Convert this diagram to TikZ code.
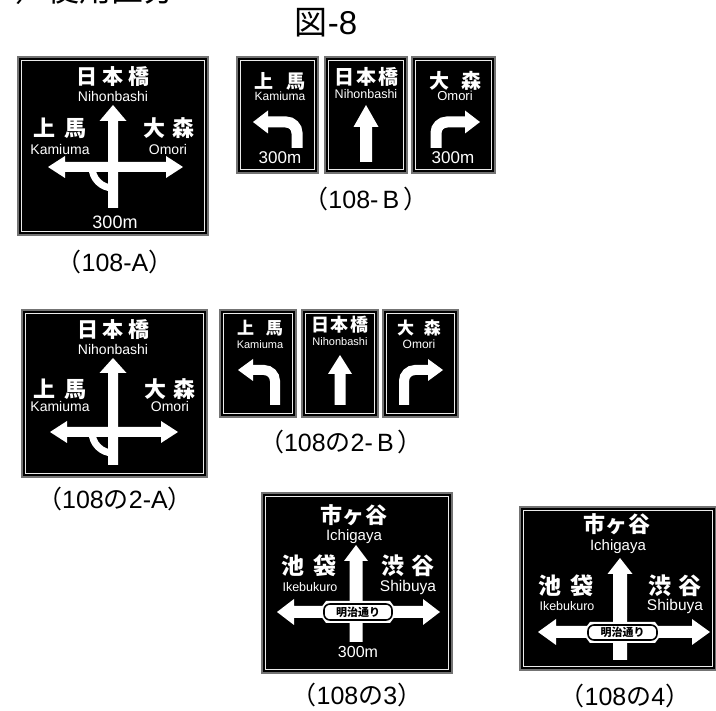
\documentclass[tikz,border=0pt]{standalone}
\usepackage{fontspec}
\setmainfont{Liberation Sans}
\newfontfamily\cjk{Noto Sans CJK JP}
\newfontfamily\latf{Liberation Sans}
\tikzset{
  signbg/.style={fill=black, draw=black!55, line width=1.5pt},
  signline/.style={draw=white!92!black, line width=1.1pt},
  jp/.style={text=white, inner sep=0pt, font=\cjk\bfseries\fontsize{#1}{#1}\selectfont},
  la/.style={text=white, inner sep=0pt, anchor=base, font=\latf\fontsize{#1}{#1}\selectfont},
  caption/.style={inner sep=0pt, anchor=base, font=\fontsize{25}{25}\selectfont},
}
% sign frame: x1 y1 x2 y2
\newcommand\signframe[4]{%
  \draw[signbg] (#1,#2) rectangle (#3,#4);
  \draw[signline] ([shift={(3.5,3.5)}]#1,#2) rectangle ([shift={(-3.5,-3.5)}]#3,#4);}
% up arrow: cx tip base bottom headhalf shafthalf
\newcommand\uparrowshape[6]{%
  \fill[white] ({#1-#6},#4) -- ({#1-#6},#3) -- ({#1-#5},#3) -- (#1,#2) -- ({#1+#5},#3) -- ({#1+#6},#3) -- ({#1+#6},#4) -- cycle;}
% double arrow: lx rx cy headlen headhalf shafthalf
\newcommand\dblarrow[6]{%
  \fill[white] (#1,#3) -- ({#1+#4},{#3-#5}) -- ({#1+#4},{#3-#6}) -- ({#2-#4},{#3-#6}) -- ({#2-#4},{#3-#5}) -- (#2,#3) -- ({#2-#4},{#3+#5}) -- ({#2-#4},{#3+#6}) -- ({#1+#4},{#3+#6}) -- ({#1+#4},{#3+#5}) -- cycle;}
% turn arrow: sx bottom hy tip base headhalf shafthalf
\newcommand\turnarrow[7]{%
  \draw[white, line width={2*#7}, rounded corners=11] (#1,#2) -- (#1,#3) -- ({#5+0.1*(#4-#5)},#3);
  \fill[white] (#4,#3) -- (#5,{#3-#6}) -- (#5,{#3+#6}) -- cycle;}
% road name plate: x1 x2 ytop ybot nodename
\newcommand\roadplate[5]{%
  \fill[white] (#1,{(#3+#4)/2}) -- ({#1+8},#3) -- ({#2-8},#3) -- (#2,{(#3+#4)/2}) -- ({#2-8},#4) -- ({#1+8},#4) -- cycle;
  \draw[black, line width=1.6, rounded corners=6] ({#1+6},{#3+3}) rectangle ({#2-6},{#4-3});
  \node[text=black, inner sep=0pt, font=\cjk\bfseries\fontsize{11}{11}\selectfont] (#5) at ({(#1+#2)/2},{(#3+#4)/2}) {明治通り};}
\begin{document}
\begin{tikzpicture}[x=1pt,y=-1pt]
\useasboundingbox (0,0) rectangle (716,711);
\clip (0,0) rectangle (716,711);
\fill[white] (0,0) rectangle (716,711);
% clipped heading at the top edge
\node[anchor=base west, inner sep=0pt, font=\cjk\fontsize{32}{32}\selectfont] (head) at (-49,2) {（ア）使用区分};
\node[anchor=base, inner sep=0pt, font=\fontsize{33}{33}\selectfont] (title) at (326,35) {\cjk 図\latf -8};

% ---------- 108-A ----------
\signframe{18}{57}{208}{235}
\dblarrow{48}{183}{167}{17}{11}{5}
\uparrowshape{113}{105}{121}{208}{13.5}{5}
\draw[white, line width=7] (92,167) arc[start angle=180,end angle=90,radius=21];
\node[jp=21] (a-nih) at (113,77) {日\kern5pt 本\kern5pt 橋};
\node[la=14] (a-nihl) at (113,102) {Nihonbashi};
\node[jp=22] (a-kam) at (60,128) {上\kern10pt 馬};
\node[la=14] (a-kaml) at (60,155) {Kamiuma};
\node[jp=22] (a-omo) at (169,128) {大\kern8pt 森};
\node[la=14] (a-omol) at (168,155) {Omori};
\node[la=18] (a-dist) at (115,229) {300m};
\node[caption] (capA) at (115,272) {\cjk （\latf 108-A\cjk ）};

% ---------- 108-B ----------
\signframe{237}{57}{318}{173}
\signframe{325}{57}{407}{173}
\signframe{412}{57}{495}{173}
\node[jp=19] (b1-j) at (280,81) {上\kern14pt 馬};
\node[la=12] (b1-l) at (280,101) {Kamiuma};
\turnarrow{297}{148}{122}{253}{268}{11.5}{5.5}
\node[la=17] (b1-d) at (280,164) {300m};
\node[jp=20] (b2-j) at (366,77) {日\kern2pt 本\kern2pt 橋};
\node[la=12.5] (b2-l) at (366,99) {Nihonbashi};
\uparrowshape{366}{105}{127}{162}{12.5}{6}
\node[jp=20] (b3-j) at (455,81) {大\kern12pt 森};
\node[la=13] (b3-l) at (455,101) {Omori};
\turnarrow{436}{148}{122}{480}{465}{11.5}{5.5}
\node[la=17] (b3-d) at (453,164) {300m};
\node[caption] (capB) at (366,209) {\cjk （\latf 108-\,B\,\cjk ）};

% ---------- 108の2-A ----------
\signframe{22}{310}{207}{477}
\dblarrow{50}{178}{432}{17}{11}{5}
\uparrowshape{113}{358}{373}{465}{13.5}{5}
\draw[white, line width=7] (92,432) arc[start angle=180,end angle=90,radius=21];
\node[jp=21] (c-nih) at (113.5,329.5) {日\kern5pt 本\kern5pt 橋};
\node[la=14] (c-nihl) at (113,355) {Nihonbashi};
\node[jp=22] (c-kam) at (60,389) {上\kern10pt 馬};
\node[la=14] (c-kaml) at (60,412) {Kamiuma};
\node[jp=22] (c-omo) at (170,389) {大\kern8pt 森};
\node[la=14] (c-omol) at (170,412) {Omori};
\node[caption] (capC) at (115,509) {\cjk （\latf 108\cjk の\latf 2-A\cjk ）};

% ---------- 108の2-B ----------
\signframe{220}{310}{296}{417}
\signframe{302}{310}{378}{417}
\signframe{383}{310}{458}{417}
\node[jp=17] (d1-j) at (260,328) {上\kern12pt 馬};
\node[la=11] (d1-l) at (260,349) {Kamiuma};
\turnarrow{275}{405}{370}{238}{253}{11}{5}
\node[jp=18] (d2-j) at (340,325) {日\kern2pt 本\kern2pt 橋};
\node[la=11] (d2-l) at (340,346) {Nihonbashi};
\uparrowshape{340}{355}{374}{405}{12}{5.5}
\node[jp=17] (d3-j) at (419,328) {大\kern10pt 森};
\node[la=12] (d3-l) at (419,349) {Omori};
\turnarrow{404}{405}{370}{443}{428}{11}{5}
\node[caption] (capD) at (341,452) {\cjk （\latf 108\cjk の\latf 2-\,B\,\cjk ）};

% ---------- 108の3 ----------
\signframe{262}{493}{452}{673}
\dblarrow{277}{440}{612}{17}{13}{6}
\uparrowshape{356}{545}{561}{642}{12}{6.5}
\roadplate{318}{398}{601}{623}{e-road}
\node[jp=22] (e-ich) at (354,515) {市\kern1pt ヶ\kern1pt 谷};
\node[la=15] (e-ichl) at (354,541) {Ichigaya};
\node[jp=23] (e-ike) at (309,566) {池\kern9pt 袋};
\node[la=12.5] (e-ikel) at (310,592) {Ikebukuro};
\node[jp=23] (e-shi) at (408,566) {渋\kern8pt 谷};
\node[la=15.5] (e-shil) at (408,592) {Shibuya};
\node[la=16] (e-dist) at (358,658) {300m};
\node[caption] (capE) at (357,705) {\cjk （\latf 108\cjk の\latf 3\cjk ）};

% ---------- 108の4 ----------
\signframe{520}{507}{716}{670}
\dblarrow{538}{710}{632}{18}{13}{6}
\uparrowshape{620}{558}{574}{660}{12.5}{7}
\roadplate{582}{663}{622}{643}{f-road}
\node[jp=22] (f-ich) at (617,524) {市\kern1pt ヶ\kern1pt 谷};
\node[la=15] (f-ichl) at (618,551) {Ichigaya};
\node[jp=23] (f-ike) at (566,586) {池\kern9pt 袋};
\node[la=12.5] (f-ikel) at (567,611) {Ikebukuro};
\node[jp=23] (f-shi) at (675,586) {渋\kern8pt 谷};
\node[la=15.5] (f-shil) at (675,611) {Shibuya};
\node[caption] (capF) at (625,706) {\cjk （\latf 108\cjk の\latf 4\cjk ）};
\end{tikzpicture}
\end{document}
